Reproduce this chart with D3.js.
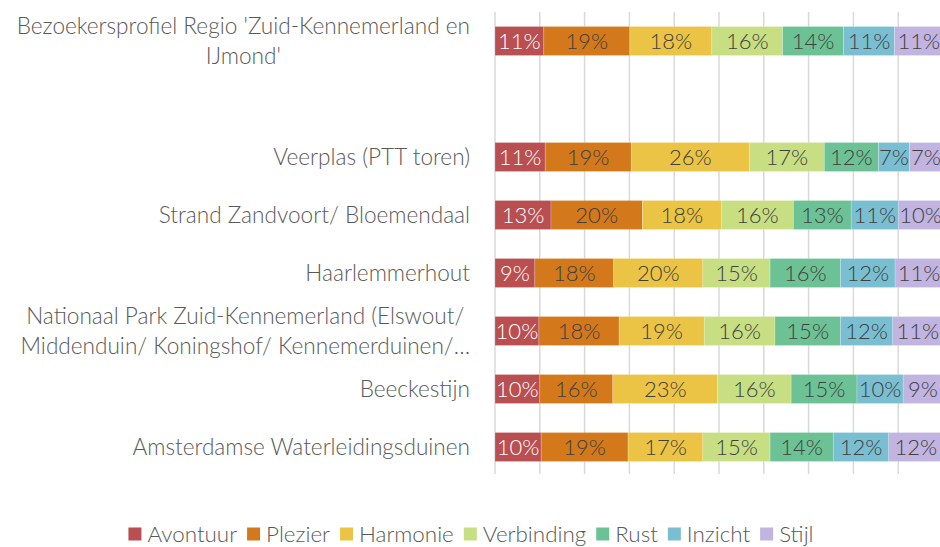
<!DOCTYPE html>
<html>
<head>
<meta charset="utf-8">
<script src="https://cdn.jsdelivr.net/npm/d3@7"></script>
<style>
  body { margin: 0; background: #fff; }
  svg { display: block; font-family: "Source Sans Pro", Lato, "Open Sans", sans-serif; font-weight: 300; }
</style>
</head>
<body>
<svg id="chart" width="940" height="547"></svg>
<script>
// series in stack order
var series = ["Avontuur", "Plezier", "Harmonie", "Verbinding", "Rust", "Inzicht", "Stijl"]
var colors = ["#b94f51", "#d4781c", "#ebc445", "#c7de83", "#6cc295", "#79bfd1", "#c1b4e1"]

// rows top to bottom, "" is the empty row in the chart
var categories = ["regio", "", "veerplas", "strand", "haarlemmerhout", "nationaal", "beeckestijn", "awd"]
var categoryLabels = [
  ["Bezoekersprofiel Regio 'Zuid-Kennemerland en", "IJmond'"],
  [],
  ["Veerplas (PTT toren)"],
  ["Strand Zandvoort/ Bloemendaal"],
  ["Haarlemmerhout"],
  ["Nationaal Park Zuid-Kennemerland (Elswout/", "Middenduin/ Koningshof/ Kennemerduinen/\u2026"],
  ["Beeckestijn"],
  ["Amsterdamse Waterleidingsduinen"]
]

// percentages per row, in series order
var regio          = [10.9, 19.2, 18.3, 15.8, 13.6, 11.4, 10.8]
var veerplas       = [11.2, 19.2, 26.4, 16.7, 12.1, 6.9, 7.4]
var strand         = [12.5, 20.4, 17.6, 16.1, 12.9, 10.6, 9.8]
var haarlemmerhout = [8.9, 17.6, 19.9, 15.0, 15.7, 12.2, 10.7]
var nationaal      = [9.8, 17.9, 19.0, 15.8, 14.6, 11.7, 11.2]
var beeckestijn    = [10.0, 16.3, 23.4, 16.4, 14.7, 10.3, 8.9]
var awd            = [10.3, 19.4, 16.7, 15.0, 14.1, 12.4, 12.1]

var rowValues = {regio: regio, veerplas: veerplas, strand: strand, haarlemmerhout: haarlemmerhout,
                 nationaal: nationaal, beeckestijn: beeckestijn, awd: awd}

var xTicks = d3.range(0, 101, 10)

var svg = d3.select("#chart")

var x = d3.scaleLinear().domain([0, 100]).range([495, 943])
var y = d3.scaleBand().domain(categories).range([12, 476]).paddingInner(0.5).paddingOuter(0.25)

// gridlines
svg.append("g")
  .selectAll("line")
  .data(xTicks)
  .enter().append("line")
  .attr("x1", function (d) { return x(d) })
  .attr("x2", function (d) { return x(d) })
  .attr("y1", 12)
  .attr("y2", 474)
  .attr("stroke", "#d9d9d9")
  .attr("stroke-width", 1.5)

// stacked rows
var rows = categories.filter(function (c) { return rowValues[c] })
rows.forEach(function (c) {
  var vals = rowValues[c]
  var start = 0
  var segs = vals.map(function (v, i) {
    var s = {x0: start, x1: start + v, v: v, i: i}
    start += v
    return s
  })
  var g = svg.append("g")
  g.selectAll("rect")
    .data(segs)
    .enter().append("rect")
    .attr("x", function (d) { return x(d.x0) })
    .attr("width", function (d) { return x(d.x1) - x(d.x0) })
    .attr("y", y(c))
    .attr("height", y.bandwidth())
    .attr("fill", function (d) { return colors[d.i] })
    .attr("stroke", "#fff")
    .attr("stroke-opacity", 0.35)
    .attr("stroke-width", 0.6)
  g.selectAll("text")
    .data(segs)
    .enter().append("text")
    .attr("x", function (d) { return (x(d.x0) + x(d.x1)) / 2 })
    .attr("y", y(c) + y.bandwidth() / 2)
    .attr("dy", "0.36em")
    .attr("text-anchor", "middle")
    .attr("font-size", 22)
    .attr("fill", function (d) { return d.i == 0 ? "#fff" : "#404040" })
    .text(function (d) { return Math.round(d.v) + "%" })
})

// category labels
var labelRight = 470
categories.forEach(function (c, i) {
  var lines = categoryLabels[i]
  if (!lines.length) return
  var cy = y(c) + y.bandwidth() / 2
  var lh = 29.5
  var g = svg.append("g")
  var texts = lines.map(function (line, j) {
    return g.append("text")
      .attr("y", cy + (j - (lines.length - 1) / 2) * lh)
      .attr("dy", "0.36em")
      .attr("font-size", 22.6)
      .attr("fill", "#595959")
      .text(line)
  })
  if (lines.length == 1) {
    texts[0].attr("x", labelRight).attr("text-anchor", "end")
  } else {
    var w = d3.max(texts, function (t) { return t.node().getComputedTextLength() })
    texts.forEach(function (t) {
      t.attr("x", labelRight - w / 2).attr("text-anchor", "middle")
    })
  }
})

// legend
var legend = svg.append("g")
var lx = 0
series.forEach(function (s, i) {
  var item = legend.append("g")
  item.append("rect").attr("y", -6.5).attr("width", 13).attr("height", 13).attr("fill", colors[i])
  var t = item.append("text").attr("x", 19).attr("dy", "0.36em").attr("font-size", 22.4)
    .attr("fill", "#595959").text(s)
  var w = 19 + t.node().getComputedTextLength()
  item.attr("transform", "translate(" + lx + ",0)")
  lx += w + 10
})
var legendW = lx - 10
legend.attr("transform", "translate(" + (471 - legendW / 2) + ",534)")
</script>
</body>
</html>
